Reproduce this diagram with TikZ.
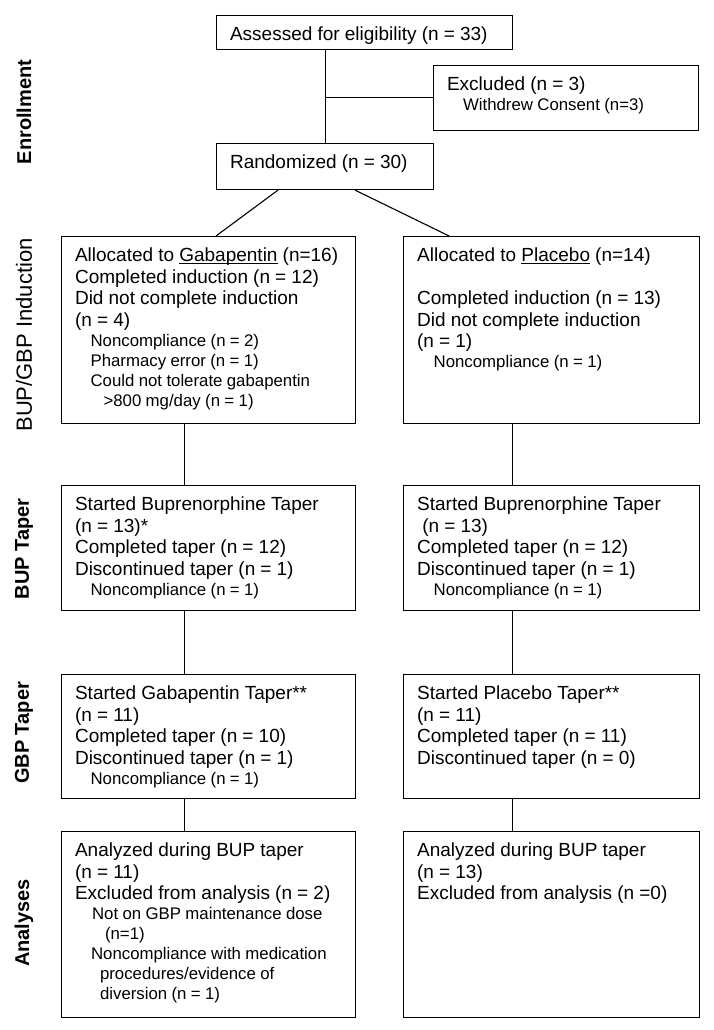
\documentclass[tikz,border=0pt]{standalone}
\usepackage{fontspec}
\setmainfont{Liberation Sans}
\usepackage{tikz}
\usetikzlibrary{positioning}

\newcommand{\boxtext}[2]{\parbox[c][#1][t]{\linewidth}{\lineskiplimit=-\maxdimen\raggedright #2}}
\newcommand{\mainln}[1]{{\fontsize{19}{21.5}\selectfont\spaceskip=0.27em\relax\strut\mbox{#1}\par}}
\newcommand{\subln}[2][15.5pt]{{\fontsize{16.8}{20}\selectfont\spaceskip=0.26em\relax\leavevmode\hspace*{#1}\mbox{#2}\par}}
\newcommand{\uln}[1]{\setbox0\hbox{#1}\rlap{\rule[-2.6pt]{\wd0}{0.9pt}}\box0\relax}

\begin{document}
\begin{tikzpicture}[x=1pt, y=-1pt, node distance=61pt and 47pt,
  box/.style={draw, line width=1.1pt, inner xsep=13.5pt, inner ysep=10pt, anchor=north west},
  gcol/.style={box, text width=267pt},
  pcol/.style={box, text width=269pt},
  link/.style={line width=1.1pt},
  sidebold/.style={rotate=90, font=\fontsize{20}{24}\selectfont\bfseries},
  sideplain/.style={rotate=90, font=\fontsize{22}{26}\selectfont}]
\path[use as bounding box, fill=white] (0,0) rectangle (714,1030);

% enrollment
\node[box, text width=269pt] (assess) at (216,15) {\boxtext{14pt}{\mainln{Assessed for eligibility (n = 33)}}};
\node[box, text width=238pt] (excl) at (433,65) {\boxtext{45pt}{\mainln{Excluded (n = 3)}\subln[16pt]{Withdrew Consent (n=3)}}};
\node[box, text width=190pt] (rand) at (216,143) {\boxtext{26pt}{\mainln{Randomized (n = 30)}}};

% induction
\node[gcol] (gind) at (61,236) {\boxtext{167pt}{%
  \mainln{Allocated to \uln{Gabapentin} (n=16)}
  \mainln{Completed induction (n = 12)}
  \mainln{Did not complete induction}
  \mainln{(n = 4)}
  \subln{Noncompliance (n = 2)}
  \subln{Pharmacy error (n = 1)}
  \subln{Could not tolerate gabapentin}
  \subln[28.5pt]{>800 mg/day (n = 1)}}};
\node[pcol, right=of gind] (pind) {\boxtext{167pt}{%
  \mainln{Allocated to \uln{Placebo} (n=14)}
  \mainln{}
  \mainln{Completed induction (n = 13)}
  \mainln{Did not complete induction}
  \mainln{(n = 1)}
  \subln[16.5pt]{Noncompliance (n = 1)}}};

% buprenorphine taper
\node[gcol, below=61pt of gind] (gbup) {\boxtext{105pt}{%
  \mainln{Started Buprenorphine Taper}
  \mainln{(n = 13)*}
  \mainln{Completed taper (n = 12)}
  \mainln{Discontinued taper (n = 1)}
  \subln{Noncompliance (n = 1)}}};
\node[pcol, right=of gbup] (pbup) {\boxtext{105pt}{%
  \mainln{Started Buprenorphine Taper}
  \mainln{\ (n = 13)}
  \mainln{Completed taper (n = 12)}
  \mainln{Discontinued taper (n = 1)}
  \subln[16.5pt]{Noncompliance (n = 1)}}};

% gabapentin taper
\node[gcol, below=63pt of gbup] (ggbp) {\boxtext{104pt}{%
  \mainln{Started Gabapentin Taper**}
  \mainln{(n = 11)}
  \mainln{Completed taper (n = 10)}
  \mainln{Discontinued taper (n = 1)}
  \subln{Noncompliance (n = 1)}}};
\node[pcol, right=of ggbp] (pgbp) {\boxtext{104pt}{%
  \mainln{Started Placebo Taper**}
  \mainln{(n = 11)}
  \mainln{Completed taper (n = 11)}
  \mainln{Discontinued taper (n = 0)}}};

% analyses
\node[gcol, below=32pt of ggbp] (gana) {\boxtext{166pt}{%
  \mainln{Analyzed during BUP taper}
  \mainln{(n = 11)}
  \mainln{Excluded from analysis (n = 2)}
  \subln[17pt]{Not on GBP maintenance dose}
  \subln[30pt]{(n=1)}
  \subln[16pt]{Noncompliance with medication}
  \subln[25pt]{procedures/evidence of}
  \subln[25pt]{diversion (n = 1)}}};
\node[pcol, right=of gana] (pana) {\boxtext{166pt}{%
  \mainln{Analyzed during BUP taper}
  \mainln{(n = 13)}
  \mainln{Excluded from analysis (n =0)}}};

% stage labels
\node[sidebold] (enr) at (24,112) {Enrollment};
\node[sideplain] (ind) at (24,335) {BUP/GBP Induction};
\node[sidebold] (bup) at (24,549) {BUP Taper};
\node[sidebold] (gbp) at (24,733) {GBP Taper};
\node[sidebold] (ana) at (24,923) {Analyses};

% connectors
\draw[link] (rand.north |- assess.south) -- (rand.north);
\draw[link] (rand.north |- excl.west) ++(0,-0.5) -- ([yshift=0.5pt]excl.west);
\draw[link] ([xshift=62pt]rand.south west) -- ([xshift=155pt]gind.north west);
\draw[link] ([xshift=139pt]rand.south west) -- ([xshift=46pt]pind.north west);
\draw[link] ([xshift=123.5pt]gind.south west) -- ([xshift=123.5pt]gbup.north west);
\draw[link] ([xshift=109pt]pind.south west) -- ([xshift=109pt]pbup.north west);
\draw[link] ([xshift=123.5pt]gbup.south west) -- ([xshift=123.5pt]ggbp.north west);
\draw[link] ([xshift=109pt]pbup.south west) -- ([xshift=109pt]pgbp.north west);
\draw[link] ([xshift=123.5pt]ggbp.south west) -- ([xshift=123.5pt]gana.north west);
\draw[link] ([xshift=109pt]pgbp.south west) -- ([xshift=109pt]pana.north west);
\end{tikzpicture}
\end{document}
